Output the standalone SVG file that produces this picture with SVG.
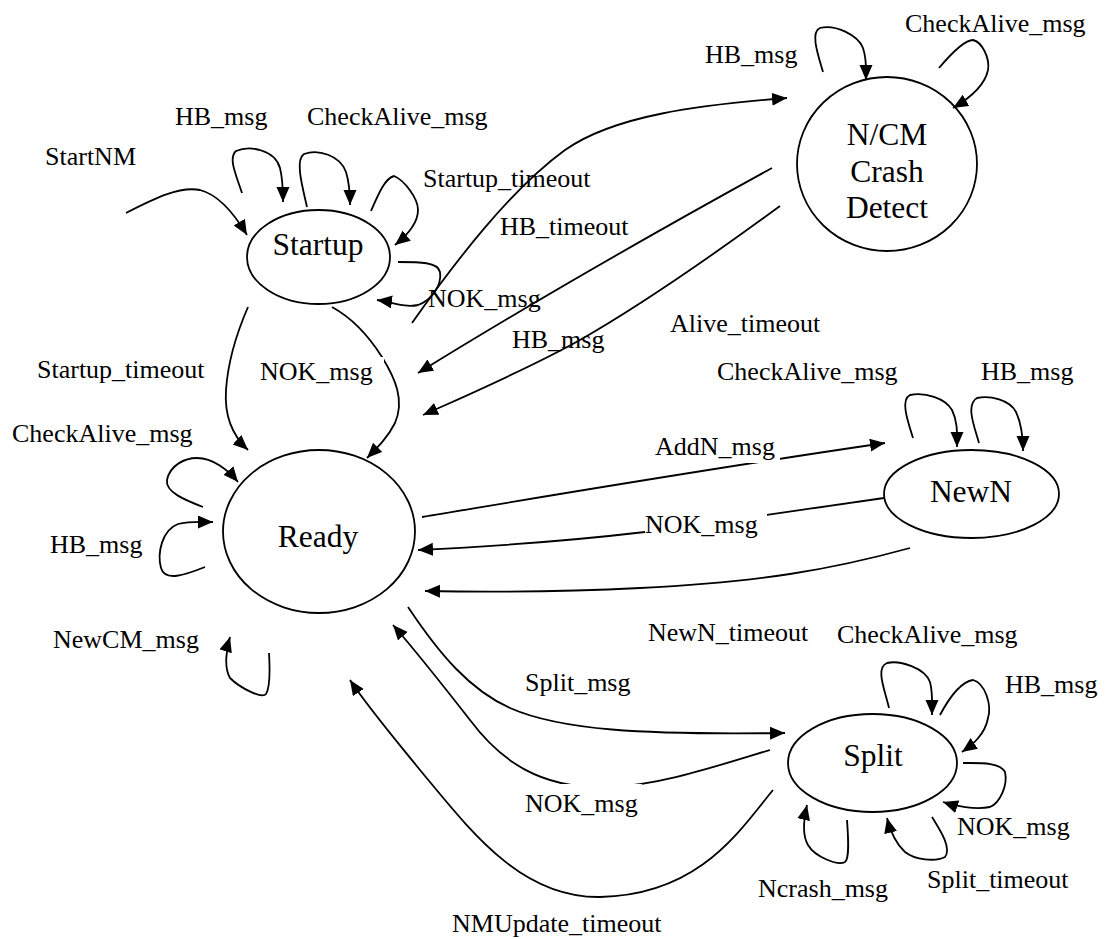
<svg xmlns="http://www.w3.org/2000/svg" width="1109" height="939" viewBox="0 0 1109 939">
<style>
.n{fill:none;stroke:#000;stroke-width:1.8}
.c{fill:none;stroke:#000;stroke-width:1.8;marker-end:url(#ah)}
.p{fill:none;stroke:#000;stroke-width:1.8}
.t{font-family:"Liberation Serif","Times New Roman",serif;font-size:31.5px;fill:#000;text-anchor:middle}
.l{font-family:"Liberation Serif","Times New Roman",serif;font-size:26px;fill:#000}
.m{fill:#fff;stroke:none}
</style>
<defs>
<marker id="ah" markerUnits="userSpaceOnUse" markerWidth="16" markerHeight="14" refX="15" refY="6.5" orient="auto">
<path d="M0,0 L15,6.5 L0,13 z" fill="#000"/>
</marker>
</defs>
<rect width="1109" height="939" fill="#fff"/>
<g id="connectors">
<path class="c" d="M126,213 C155,198 180,186 200,190 C220,195 235,215 247,235"/>
<path class="c" d="M242,193 C236,175 228,158 236,151 C250,145 275,150 280,168 C283,180 283,190 283,202"/>
<path class="c" d="M307,207 C302,185 295,160 304,154 C318,149 340,155 346,172 C350,185 350,195 350,205"/>
<path class="c" d="M371,211 C378,195 385,178 394,176 C404,180 418,198 418,210 C418,225 405,237 395,245"/>
<path class="c" d="M398,262 C420,262 438,262 440,272 C442,285 432,300 418,305 C405,308 392,302 377,300"/>
<path class="c" d="M412,323 C455,262 510,190 565,150 C615,115 700,105 787,98"/>
<path class="c" d="M248,307 C238,330 228,360 226,390 C224,420 235,438 248,450"/>
<path class="c" d="M332,307 C352,318 370,338 382,357 C395,378 405,400 395,423 C388,437 378,447 367,458"/>
<path class="c" d="M772,168 C650,235 520,310 418,373"/>
<path class="c" d="M780,206 C720,250 650,300 580,340 C530,368 470,394 423,415"/>
<path class="c" d="M422,517 C560,494 700,470 885,443"/>
<path class="c" d="M884,498 C800,510 700,525 645,532 C560,542 480,547 418,550"/>
<path class="c" d="M910,548 C830,570 760,582 640,588 C560,592 480,592 425,591"/>
<path class="c" d="M408,607 C440,655 470,690 510,708 C560,730 640,735 785,733"/>
<path class="c" d="M770,750 C710,768 660,785 610,787 C540,790 500,760 470,720 C445,688 415,650 393,625"/>
<path class="c" d="M773,790 C740,830 700,895 600,897 C520,898 470,830 420,770 C400,745 370,710 350,680"/>
<path class="c" d="M203,507 C185,500 165,492 167,480 C170,465 185,458 197,458 C213,458 228,470 238,482"/>
<path class="c" d="M205,567 C185,575 165,582 161,568 C157,553 162,530 178,524 C190,521 200,522 213,522"/>
<path class="c" d="M269,653 C270,670 270,688 266,694 C262,699 240,688 230,678 C224,668 226,650 230,637"/>
<path class="c" d="M913,438 C908,422 900,400 910,395 C925,392 945,398 952,410 C958,422 957,435 957,447"/>
<path class="c" d="M979,443 C975,428 965,405 977,398 C990,395 1010,400 1016,412 C1022,425 1023,440 1023,451"/>
<path class="c" d="M823,72 C818,55 810,32 820,28 C835,24 858,35 863,48 C867,60 866,70 866,80"/>
<path class="c" d="M939,68 C950,55 965,40 973,40 C982,42 990,58 988,70 C985,85 970,98 953,108"/>
<path class="c" d="M889,708 C885,690 875,668 887,663 C900,660 925,668 930,682 C933,693 932,705 932,715"/>
<path class="c" d="M940,715 C948,700 960,682 973,680 C985,683 992,705 988,718 C985,735 972,745 962,752"/>
<path class="c" d="M963,763 C980,763 1000,762 1005,772 C1008,785 1000,803 990,807 C975,810 955,806 943,802"/>
<path class="c" d="M932,817 C940,830 952,848 945,857 C935,862 915,860 905,852 C895,843 890,830 887,818"/>
<path class="c" d="M847,820 C848,835 850,858 845,862 C838,866 815,857 808,845 C802,835 804,818 807,805"/>
</g>
<g id="node-startup"><ellipse class="n" cx="318.5" cy="257" rx="71.5" ry="47"/><text class="t" x="318" y="255">Startup</text></g>
<g id="node-ready"><ellipse class="n" cx="319" cy="531.5" rx="96" ry="81.5"/><text class="t" x="318" y="547">Ready</text></g>
<g id="node-ncm"><ellipse class="n" cx="887" cy="164" rx="90" ry="87"/><text class="t" x="887" y="145">N/CM</text><text class="t" x="887" y="182">Crash</text><text class="t" x="887" y="218">Detect</text></g>
<g id="node-newn"><ellipse class="n" cx="971.5" cy="494" rx="87.5" ry="44"/><text class="t" x="971" y="502">NewN</text></g>
<g id="node-split"><ellipse class="n" cx="872.5" cy="763" rx="84.5" ry="49"/><text class="t" x="873" y="766">Split</text></g>
<g id="labels">
<rect class="m" x="655" y="436" width="125" height="27"/>
<rect class="m" x="645" y="513" width="122" height="28"/>
<rect class="m" x="520" y="784" width="122" height="34"/>
<rect class="m" x="258" y="357" width="126" height="30"/>
<text class="l" x="45" y="165">StartNM</text>
<text class="l" x="175" y="125">HB_msg</text>
<text class="l" x="307" y="125">CheckAlive_msg</text>
<text class="l" x="423" y="187">Startup_timeout</text>
<text class="l" x="500" y="235">HB_timeout</text>
<text class="l" x="428" y="307">NOK_msg</text>
<text class="l" x="512" y="348">HB_msg</text>
<text class="l" x="670" y="332">Alive_timeout</text>
<text class="l" x="705" y="63">HB_msg</text>
<text class="l" x="905" y="32">CheckAlive_msg</text>
<text class="l" x="37" y="378">Startup_timeout</text>
<text class="l" x="260" y="380">NOK_msg</text>
<text class="l" x="12" y="442">CheckAlive_msg</text>
<text class="l" x="50" y="553">HB_msg</text>
<text class="l" x="53" y="648">NewCM_msg</text>
<text class="l" x="717" y="380">CheckAlive_msg</text>
<text class="l" x="981" y="380">HB_msg</text>
<text class="l" x="655" y="455">AddN_msg</text>
<text class="l" x="645" y="533">NOK_msg</text>
<text class="l" x="648" y="641">NewN_timeout</text>
<text class="l" x="837" y="643">CheckAlive_msg</text>
<text class="l" x="1005" y="693">HB_msg</text>
<text class="l" x="525" y="691">Split_msg</text>
<text class="l" x="525" y="812">NOK_msg</text>
<text class="l" x="957" y="835">NOK_msg</text>
<text class="l" x="927" y="888">Split_timeout</text>
<text class="l" x="758" y="897">Ncrash_msg</text>
<text class="l" x="452" y="932">NMUpdate_timeout</text>
</g>
</svg>
